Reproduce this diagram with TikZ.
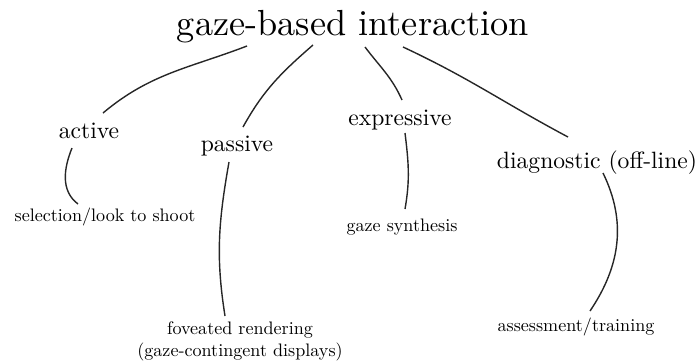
\documentclass[tikz,border=0pt]{standalone}

\begin{document}
\begin{tikzpicture}[x=1pt,y=1pt,
  rootlabel/.style={scale=3.63, anchor=base, inner sep=0pt},
  kindlabel/.style={scale=2.36, anchor=base, inner sep=0pt},
  uselabel/.style={scale=1.81, anchor=base, inner sep=0pt, align=center},
  branch/.style={black!85, line width=1.4pt}]
\useasboundingbox (0,-362) rectangle (700,0);
\node[rootlabel] (gaze) at (353,-35) {gaze-based interaction};
\node[kindlabel] (active) at (89,-138) {active};
\node[kindlabel] (passive) at (237,-151) {passive};
\node[kindlabel] (expressive) at (400,-125) {expressive};
\node[kindlabel] (diagnostic) at (597,-168) {diagnostic (off-line)};
\node[uselabel] (select) at (105,-221) {selection/look to shoot};
\node[uselabel] (foveated) at (240,-356) {foveated rendering\\(gaze-contingent displays)};
\node[uselabel] (synthesis) at (402,-231) {gaze synthesis};
\node[uselabel] (assess) at (576,-331) {assessment/training};
\draw[branch] ([shift={(-106,-11)}]gaze.base) to[out=201, in=40] ([shift={(14,25)}]active.base);
\draw[branch] ([shift={(-40,-10)}]gaze.base) to[out=221, in=61] ([shift={(6,24)}]passive.base);
\draw[branch] ([shift={(12,-12)}]gaze.base) to[out=307, in=114] ([shift={(2,25)}]expressive.base);
\draw[branch] ([shift={(50,-12)}]gaze.base) to[out=335, in=152] ([shift={(-29,31)}]diagnostic.base);
\draw[branch] ([shift={(-17,-10)}]active.base) to[out=248, in=143] ([shift={(-27,17)}]select.base);
\draw[branch] ([shift={(-8,-11)}]passive.base) to[out=260, in=99] ([shift={(-15,40)}]foveated.base);
\draw[branch] ([shift={(5,-8)}]expressive.base) to[out=277, in=80] ([shift={(3,22)}]synthesis.base);
\draw[branch] ([shift={(6,-5)}]diagnostic.base) to[out=296, in=56] ([shift={(14,20)}]assess.base);
\end{tikzpicture}
\end{document}
